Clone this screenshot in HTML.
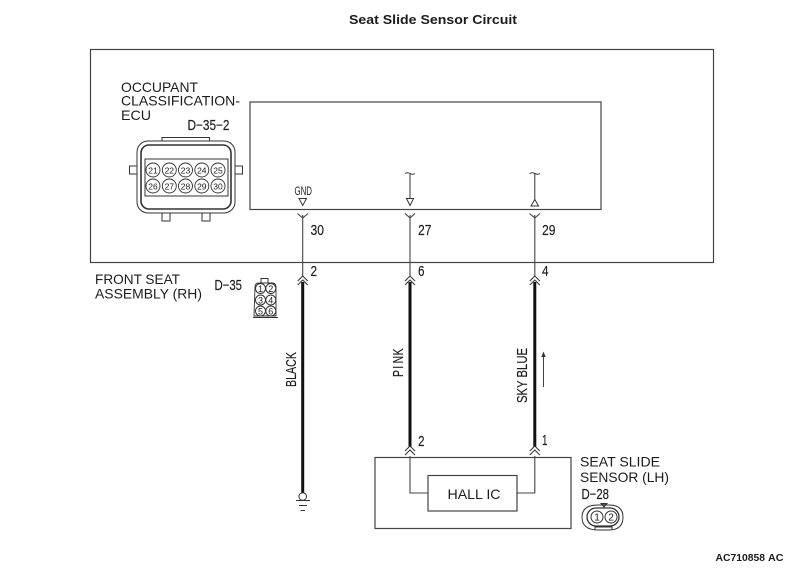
<!DOCTYPE html>
<html>
<head>
<meta charset="utf-8">
<style>
html,body{margin:0;padding:0;background:#fff;width:800px;height:568px;overflow:hidden}
svg{display:block;font-family:"Liberation Sans",sans-serif}
text{fill:#1c1c1c}
.l{font-size:14px}
.n{font-size:14.5px;stroke:#1c1c1c;stroke-width:.15px}
.c{font-size:8.5px;text-anchor:middle}
</style>
</head>
<body>
<svg width="800" height="568" viewBox="0 0 800 568" xmlns="http://www.w3.org/2000/svg">
<defs>
<g id="dbl" fill="none" stroke="#333" stroke-width="1">
<path d="M-5 -1L0 -6L5 -1"/><path d="M-5 3L0 -2L5 3"/>
</g>
</defs>
<text x="349" y="24" font-size="13" font-weight="bold" textLength="168" lengthAdjust="spacingAndGlyphs">Seat Slide Sensor Circuit</text>

<g fill="none" stroke="#444" stroke-width="1.2">
<rect x="90.5" y="49.5" width="623" height="213"/>
<rect x="250" y="102" width="351" height="107.5"/>
<rect x="375" y="457.5" width="196" height="71"/>
<rect x="428" y="475.5" width="89" height="35.5"/>
</g>

<text class="l" x="121" y="92" textLength="77" lengthAdjust="spacingAndGlyphs">OCCUPANT</text>
<text class="l" x="121" y="105.500" textLength="119" lengthAdjust="spacingAndGlyphs">CLASSIFICATION-</text>
<text class="l" x="121" y="120" textLength="30" lengthAdjust="spacingAndGlyphs">ECU</text>
<text class="n" x="187.500" y="130" textLength="42" lengthAdjust="spacingAndGlyphs">D−35−2</text>

<!-- ECU connector -->
<g fill="none" stroke="#333">
<path d="M162 141V137.5H209.5V141" stroke-width="1"/>
<rect x="137" y="141" width="98" height="72" rx="11" stroke-width="1"/>
<rect x="141" y="145" width="90" height="64" rx="8" stroke-width="1.6"/>
<rect x="145" y="159" width="83" height="37" stroke-width="1"/>
<rect x="129.5" y="166" width="7.5" height="8" stroke-width="1"/>
<rect x="235" y="166" width="7.5" height="8" stroke-width="1"/>
<rect x="162" y="213" width="8" height="8" stroke-width="1"/>
<rect x="202" y="213" width="8" height="8" stroke-width="1"/>
<g stroke-width="0.9">
<circle cx="153" cy="170" r="7"/><circle cx="169.3" cy="170" r="7"/><circle cx="185.5" cy="170" r="7"/><circle cx="201.8" cy="170" r="7"/><circle cx="218" cy="170" r="7"/>
<circle cx="153" cy="186" r="7"/><circle cx="169.3" cy="186" r="7"/><circle cx="185.5" cy="186" r="7"/><circle cx="201.8" cy="186" r="7"/><circle cx="218" cy="186" r="7"/>
</g>
</g>
<text class="c" x="153" y="173.5">21</text><text class="c" x="169.3" y="173.5">22</text><text class="c" x="185.5" y="173.5">23</text><text class="c" x="201.8" y="173.5">24</text><text class="c" x="218" y="173.5">25</text>
<text class="c" x="153" y="189.5">26</text><text class="c" x="169.3" y="189.5">27</text><text class="c" x="185.5" y="189.5">28</text><text class="c" x="201.8" y="189.5">29</text><text class="c" x="218" y="189.5">30</text>

<!-- inner symbols -->
<text x="294.500" y="195" font-size="12" textLength="17.500" lengthAdjust="spacingAndGlyphs">GND</text>
<g fill="#fff" stroke="#333" stroke-width="1">
<path d="M299 198.5H306.500L302.700 205.500Z"/>
<path d="M406.500 198.500H413.500L410 205.500Z"/>
<path d="M531 206H538.500L534.800 199.500Z"/>
</g>
<g fill="none" stroke="#333" stroke-width="1">
<path d="M410 174V198.500M405 173.500Q407.500 172 410 173.500T415 173.500"/>
<path d="M534.800 174V199.500M529.500 173.500Q532 172 534.800 173.500T540 173.500"/>
</g>

<!-- thin wires -->
<g fill="none" stroke="#444" stroke-width="1.1">
<path d="M302.700 215V276M297.500 213.500L302.700 218L308 213.500"/>
<path d="M410 215V276M405 213.500L410 218L415 213.500"/>
<path d="M534.800 215V276M529.500 213.500L534.800 218L540 213.500"/>
<path d="M410 456V493H428"/>
<path d="M534.800 456V493H517"/>
</g>

<!-- thick wires -->
<g stroke="#111" stroke-width="3" fill="none">
<path d="M302.700 282V493"/>
<path d="M410 282V447"/>
<path d="M534.800 282V447"/>
</g>
<use href="#dbl" x="302.700" y="282"/>
<use href="#dbl" x="410" y="282"/>
<use href="#dbl" x="534.800" y="282"/>
<use href="#dbl" x="410" y="452"/>
<use href="#dbl" x="534.800" y="452"/>

<text class="n" x="310.500" y="235" textLength="13.500" lengthAdjust="spacingAndGlyphs">30</text>
<text class="n" x="418" y="235" textLength="13.500" lengthAdjust="spacingAndGlyphs">27</text>
<text class="n" x="542" y="235" textLength="13.500" lengthAdjust="spacingAndGlyphs">29</text>
<text class="n" x="310.500" y="276" textLength="6.500" lengthAdjust="spacingAndGlyphs">2</text>
<text class="n" x="418" y="276" textLength="6.500" lengthAdjust="spacingAndGlyphs">6</text>
<text class="n" x="542" y="276" textLength="6.500" lengthAdjust="spacingAndGlyphs">4</text>
<text class="n" x="418" y="446" textLength="6.500" lengthAdjust="spacingAndGlyphs">2</text>
<text class="n" x="542" y="445" textLength="5.500" lengthAdjust="spacingAndGlyphs">1</text>

<text class="l" x="95" y="284" textLength="85" lengthAdjust="spacingAndGlyphs">FRONT SEAT</text>
<text class="l" x="95" y="298.500" textLength="107" lengthAdjust="spacingAndGlyphs">ASSEMBLY (RH)</text>
<text class="n" x="214.500" y="290" textLength="27.500" lengthAdjust="spacingAndGlyphs">D−35</text>

<!-- D-35 connector -->
<g fill="none" stroke="#333" stroke-width="1">
<path d="M261 283V278.500H268V283"/>
<path d="M255 287Q255 283 259 283H272Q276 283 276 287V316H254Z" stroke-width="0.9"/>
<circle cx="260.500" cy="288.500" r="5"/><circle cx="270.800" cy="288.500" r="5"/>
<circle cx="260.500" cy="300" r="5"/><circle cx="270.800" cy="300" r="5"/>
<circle cx="260.500" cy="311" r="5"/><circle cx="270.800" cy="311" r="5"/>
<path d="M253 317.500H278"/>
</g>
<g font-size="9" text-anchor="middle">
<text x="260.500" y="292">1</text><text x="270.800" y="292">2</text>
<text x="260.500" y="303.500">3</text><text x="270.800" y="303.500">4</text>
<text x="260.500" y="314.500">5</text><text x="270.800" y="314.500">6</text>
</g>

<!-- vertical labels -->
<text class="n" transform="translate(296,387) rotate(-90)" textLength="35" lengthAdjust="spacingAndGlyphs">BLACK</text>
<text class="n" transform="translate(403,377) rotate(-90) scale(.72,1)" x="0 11.5 19 30">PINK</text>
<text class="n" transform="translate(527,403) rotate(-90)" textLength="55" lengthAdjust="spacingAndGlyphs">SKY BLUE</text>

<!-- current arrow -->
<path d="M543.500 387V356" stroke="#444" stroke-width="1" fill="none"/>
<path d="M543.500 351.500L541.300 357H545.700Z" fill="#333"/>

<!-- ground -->
<g fill="none" stroke="#333" stroke-width="1">
<circle cx="302.700" cy="496.500" r="3.800"/>
<path d="M296 500.500H310"/>
<path d="M299 505.500H307"/>
<path d="M300.500 510.500H305"/>
</g>

<text x="447.500" y="499" font-size="14" textLength="53" lengthAdjust="spacingAndGlyphs">HALL IC</text>

<text class="l" x="580" y="466.500" textLength="80" lengthAdjust="spacingAndGlyphs">SEAT SLIDE</text>
<text class="l" x="580" y="482" textLength="89" lengthAdjust="spacingAndGlyphs">SENSOR (LH)</text>
<text class="n" x="581.500" y="499" textLength="27.500" lengthAdjust="spacingAndGlyphs">D−28</text>

<!-- D-28 connector -->
<g fill="none" stroke="#333" stroke-width="1">
<path d="M598 505H609Q623 505 623 517Q623 530 609 530H598Q582 530 582 517Q582 505 598 505Z"/>
<rect x="587" y="508" width="32" height="18" rx="9" stroke-width="1.3"/>
<circle cx="597" cy="517" r="6"/><circle cx="611" cy="517" r="6"/>
<path d="M601 503.500H607L604 507Z" fill="#555"/>
<path d="M595 530V527H612V530"/>
</g>
<g font-size="10" text-anchor="middle">
<text x="597" y="520.500">1</text><text x="611" y="520.500">2</text>
</g>

<text x="715.500" y="561" font-size="10.500" font-weight="bold" textLength="49.500" lengthAdjust="spacingAndGlyphs">AC710858</text>
<text x="768" y="561" font-size="10.500" font-weight="bold" textLength="15.500" lengthAdjust="spacingAndGlyphs">AC</text>
</svg>
</body>
</html>
